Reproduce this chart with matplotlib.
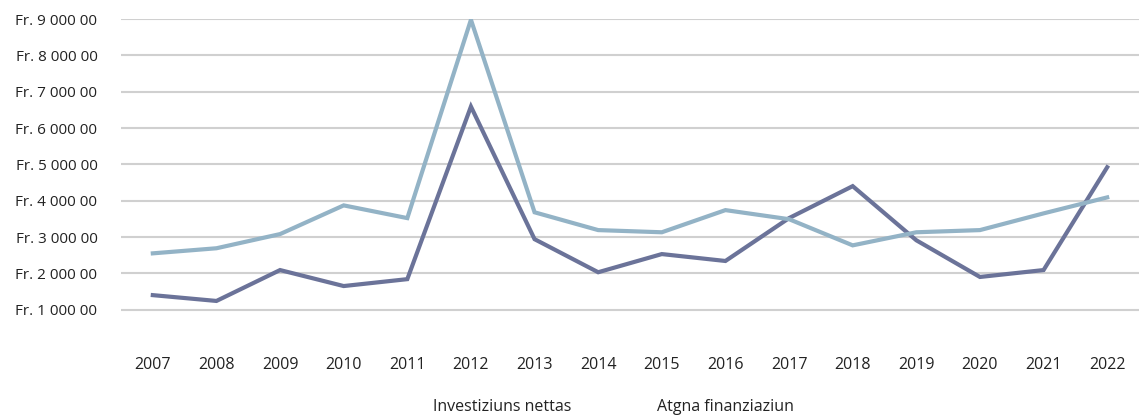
import matplotlib
matplotlib.use("Agg")
import matplotlib.pyplot as plt
from matplotlib.ticker import FuncFormatter

years = [str(y) for y in range(2007, 2023)]
investiziuns_nettas = [1.40, 1.24, 2.09, 1.65, 1.84, 6.59, 2.94, 2.03,
                       2.53, 2.34, 3.52, 4.40, 2.91, 1.90, 2.09, 4.92]
atgna_finanziaziun = [2.55, 2.69, 3.08, 3.87, 3.52, 8.98, 3.68, 3.19,
                      3.13, 3.74, 3.49, 2.77, 3.13, 3.19, 3.65, 4.09]
y_ticks = [1, 2, 3, 4, 5, 6, 7, 8, 9]

dark = "#6b7399"
light = "#93b3c6"

plt.rcParams['font.family'] = ['Open Sans', 'DejaVu Sans']

fig = plt.figure(figsize=(11.39, 4.16), dpi=100)
ax = fig.add_axes([121 / 1139, 1 - 346 / 416, 1 - 121 / 1139, (346 - 19) / 416])

x = range(len(years))
ax.plot(x, investiziuns_nettas, color=dark, lw=3, solid_joinstyle='miter', zorder=3)
ax.plot(x, atgna_finanziaziun, color=light, lw=3, solid_joinstyle='miter', zorder=3)

ax.set_xlim(-0.5, len(years) - 0.5)
ax.set_ylim(0, 9.0)
ax.set_xticks(list(x))
ax.set_xticklabels(years)
ax.set_yticks(y_ticks)
ax.yaxis.set_major_formatter(FuncFormatter(lambda v, p: f"Fr. {int(v)} 000 00"))

ax.grid(axis='y', color='#d0d0d0', lw=1.5)
for s in ax.spines.values():
    s.set_visible(False)
ax.tick_params(axis='both', length=0, colors='#222222')
ax.tick_params(axis='y', pad=17, labelsize=11)
ax.tick_params(axis='x', pad=8, labelsize=11.5)

fig.text(502 / 1139, 1 - 407 / 416, "Investiziuns nettas", ha='center', va='center',
         fontsize=11.5, color='#222222')
fig.text(725 / 1139, 1 - 407 / 416, "Atgna finanziaziun", ha='center', va='center',
         fontsize=11.5, color='#222222')

fig.savefig("out.png", dpi=100)
